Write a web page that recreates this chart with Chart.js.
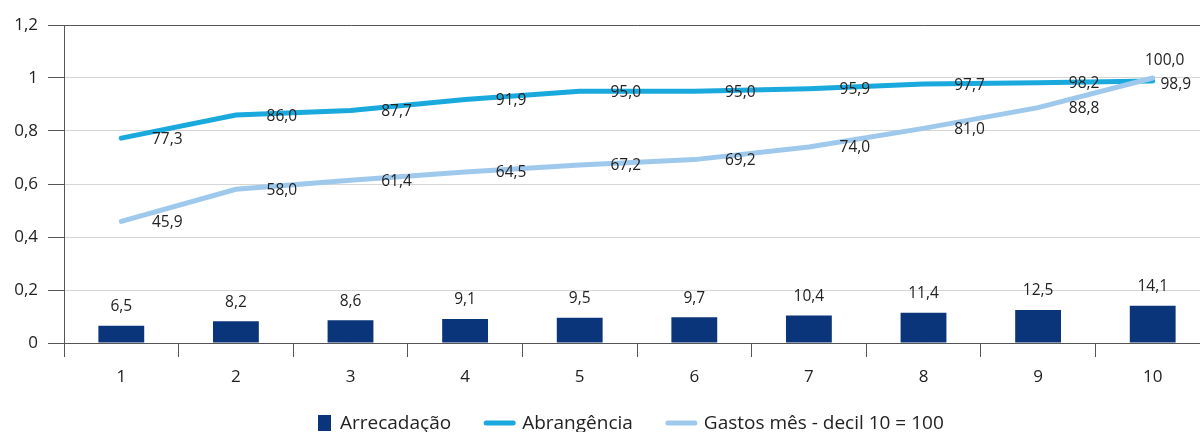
<!DOCTYPE html>
<html>
<head>
<meta charset="utf-8">
<script src="https://cdn.jsdelivr.net/npm/chart.js"></script>
<style>
  html, body { margin: 0; padding: 0; background: #fff; overflow: hidden; }
  #wrap { width: 1200px; height: 432px; overflow: hidden; }
</style>
</head>
<body>
<div id="wrap"><canvas id="chart" width="1210" height="432"></canvas></div>
<script>
// decis
const categories = ["1", "2", "3", "4", "5", "6", "7", "8", "9", "10"];
// valores em %
const arrecadacao = [6.5, 8.2, 8.6, 9.1, 9.5, 9.7, 10.4, 11.4, 12.5, 14.1];
const abrangencia = [77.3, 86.0, 87.7, 91.9, 95.0, 95.0, 95.9, 97.7, 98.2, 98.9];
const gastos = [45.9, 58.0, 61.4, 64.5, 67.2, 69.2, 74.0, 81.0, 88.8, 100.0];
const yTicks = [0, 0.2, 0.4, 0.6, 0.8, 1, 1.2];

const FONT = "'Open Sans', 'Noto Sans', sans-serif";
const AXIS = "#555555";
const GRID = "#d6d6d6";
const TEXT = "#222222";
const colors = { bar: "#0b357a", abr: "#1aa9dc", gas: "#9fc9ec" };

function fmt(v) {
  return v.toFixed(1).replace(".", ",");
}

// rotulos de dados (sem plugin externo)
const labelPlugin = {
  id: "valueLabels",
  afterDatasetsDraw(chart) {
    const ctx = chart.ctx;
    ctx.save();
    ctx.font = "15.5px " + FONT;
    ctx.fillStyle = TEXT;
    ctx.textAlign = "center";
    ctx.textBaseline = "middle";
    chart.data.datasets.forEach((ds, i) => {
      const meta = chart.getDatasetMeta(i);
      meta.data.forEach((el, j) => {
        const txt = fmt(ds.raw[j]);
        let x = el.x, y = el.y;
        if (ds.type === "bar") {
          y = el.y - 19;
        } else if (j === ds.raw.length - 1) {
          if (ds.label === "Abrangência") { x += 23; y += 4; }
          else { x += 12; y -= 17; }
        } else {
          x += 46;
          y += 1;
        }
        ctx.fillText(txt, x, y);
      });
    });
    ctx.restore();
  }
};

// legenda embaixo
const legendPlugin = {
  id: "bottomLegend",
  afterDraw(chart) {
    const ctx = chart.ctx;
    ctx.save();
    ctx.font = "19px " + FONT;
    ctx.fillStyle = TEXT;
    ctx.textBaseline = "middle";
    const cy = 423;
    let x = 318;
    chart.data.datasets.forEach((ds) => {
      if (ds.type === "bar") {
        ctx.fillStyle = ds.backgroundColor;
        ctx.fillRect(x, cy - 8, 13, 16);
        x += 13 + 9;
      } else {
        ctx.strokeStyle = ds.borderColor;
        ctx.lineWidth = 5;
        ctx.lineCap = "round";
        ctx.beginPath();
        ctx.moveTo(x + 2, cy);
        ctx.lineTo(x + 29, cy);
        ctx.stroke();
        x += 31 + 7;
      }
      ctx.fillStyle = TEXT;
      ctx.fillText(ds.label, x, cy + 1);
      x += ctx.measureText(ds.label).width + 33;
    });
    ctx.restore();
  }
};

new Chart(document.getElementById("chart"), {
  data: {
    labels: categories,
    datasets: [
      {
        type: "bar",
        label: "Arrecadação",
        raw: arrecadacao,
        data: arrecadacao.map(v => v / 100),
        backgroundColor: colors.bar,
        barPercentage: 0.4,
        categoryPercentage: 1,
        order: 3
      },
      {
        type: "line",
        label: "Abrangência",
        raw: abrangencia,
        data: abrangencia.map(v => v / 100),
        borderColor: colors.abr,
        backgroundColor: colors.abr,
        borderWidth: 5,
        pointRadius: 0,
        tension: 0,
        borderCapStyle: "round",
        order: 2
      },
      {
        type: "line",
        label: "Gastos mês - decil 10 = 100",
        raw: gastos,
        data: gastos.map(v => v / 100),
        borderColor: colors.gas,
        backgroundColor: colors.gas,
        borderWidth: 5,
        pointRadius: 0,
        tension: 0,
        borderCapStyle: "round",
        order: 1
      }
    ]
  },
  options: {
    responsive: false,
    animation: false,
    layout: { padding: { top: 25, left: 0, right: 0, bottom: 0 } },
    plugins: {
      legend: { display: false },
      tooltip: { enabled: false }
    },
    scales: {
      x: {
        offset: true,
        grid: {
          offset: true,
          drawOnChartArea: false,
          color: AXIS,
          tickLength: 14
        },
        border: { color: AXIS, width: 1 },
        ticks: {
          color: TEXT,
          font: { family: FONT, size: 17 },
          padding: 10
        },
        afterFit(scale) { scale.height = 89; }
      },
      y: {
        min: 0,
        max: 1.2,
        afterBuildTicks(scale) { scale.ticks = yTicks.map(v => ({ value: v })); },
        grid: {
          color: (c) => (c.tick && (c.tick.value === 0 || c.tick.value === 1.2)) ? AXIS : GRID,
          tickColor: AXIS,
          tickLength: 16,
          lineWidth: 1
        },
        border: { color: AXIS, width: 1 },
        ticks: {
          color: TEXT,
          font: { family: FONT, size: 17 },
          padding: 10,
          callback: (v) => String(Math.round(v * 10) / 10).replace(".", ",")
        },
        afterFit(scale) { scale.width = 64; }
      }
    }
  },
  plugins: [labelPlugin, legendPlugin]
});
</script>
</body>
</html>
